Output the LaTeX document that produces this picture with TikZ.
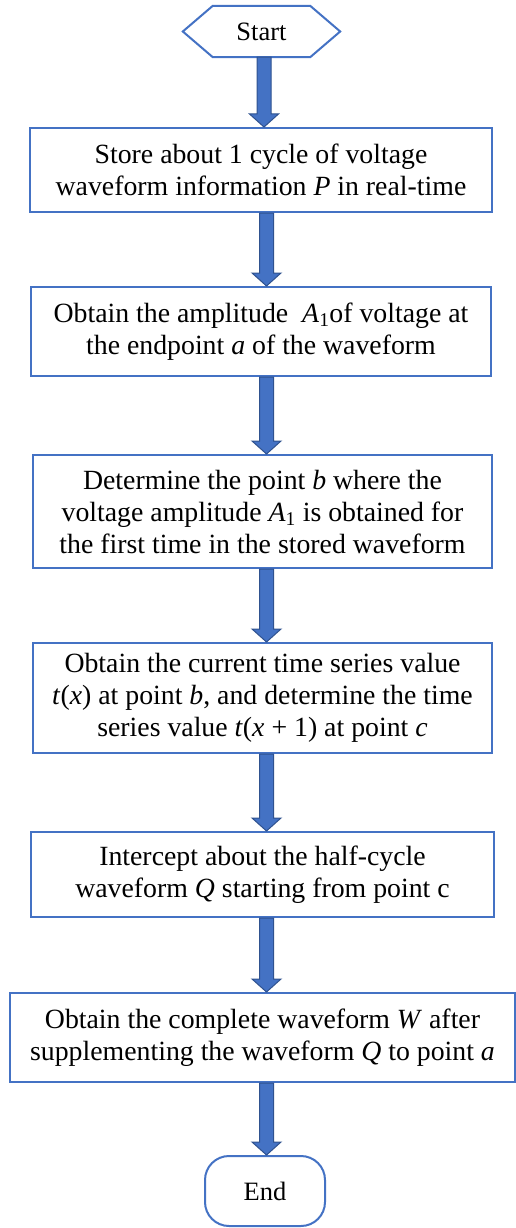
\documentclass[tikz,border=0pt]{standalone}
\usepackage{fontspec}
\setmainfont{Liberation Serif}
\usetikzlibrary{calc}
\definecolor{flowblue}{HTML}{4472C4}
\definecolor{flowedge}{HTML}{2F528F}
\newcommand{\mv}[1]{\textit{#1}}
\begin{document}
\begin{tikzpicture}[x=1pt,y=-1pt,
  stepbox/.style={draw=flowblue, line width=2pt, fill=white, align=center,
    inner sep=0pt, font=\fontsize{27.8}{32}\selectfont},
  termtext/.style={inner sep=0pt, font=\fontsize{26.5}{30}\selectfont},
  flowarrow/.style={draw=flowedge, fill=flowblue, line width=1pt,
    to path={let \p1=(\tikztostart), \p2=(\tikztotarget) in
      (\x1-7pt,\y1) -- (\x1+7pt,\y1) -- (\x1+7pt,\y2+13pt) -- (\x1+14.5pt,\y2+13pt)
      -- (\x1,\y2) -- (\x1-14.5pt,\y2+13pt) -- (\x1-7pt,\y2+13pt) -- cycle}}]
\useasboundingbox (0,0) rectangle (516,1228);

% vertical lines the block arrows run along
\coordinate (axisA) at (264,0);
\coordinate (axisB) at (266.5,0);

% start terminal (hexagon)
\node[termtext, minimum width=157pt, minimum height=51pt] (start) at (261.5,31.5) {Start};
\draw[flowblue, line width=2pt, line join=miter]
  (start.west) -- ([xshift=30pt]start.north west) -- ([xshift=-30pt]start.north east)
  -- (start.east) -- ([xshift=-30pt]start.south east) -- ([xshift=30pt]start.south west) -- cycle;

% process steps
\node[stepbox, minimum width=462pt, minimum height=84pt] (s1) at (261,170)
  {Store about 1 cycle of voltage\\waveform information \mv{P} in real-time};
\node[stepbox, minimum width=460pt, minimum height=89pt] (s2) at (261,331.5)
  {Obtain the amplitude \ \mv{A}\textsubscript{1}of voltage at\\the endpoint \mv{a} of the waveform};
\node[stepbox, minimum width=459pt, minimum height=113pt] (s3) at (262.5,511.5)
  {Determine the point \mv{b} where the\\voltage amplitude \mv{A}\textsubscript{1} is obtained for\\the first time in the stored waveform};
\node[stepbox, minimum width=459pt, minimum height=110pt] (s4) at (262.5,698)
  {Obtain the current time series value\\\mv{t}(\mv{x}) at point \mv{b}, and determine the time\\series value \mv{t}(\mv{x} + 1) at point \mv{c}};
\node[stepbox, minimum width=463pt, minimum height=85pt] (s5) at (262.5,874.5)
  {Intercept about the half-cycle\\waveform \mv{Q} starting from point c};
\node[stepbox, minimum width=505pt, minimum height=89pt] (s6) at (262.5,1037.5)
  {Obtain the complete waveform \mv{W} after\\supplementing the waveform \mv{Q} to point \mv{a}};

% end terminal
\node[stepbox, rounded corners=24pt, minimum width=120pt, minimum height=70pt,
  font=\fontsize{26.5}{30}\selectfont] (finish) at (265,1191) {End};

% block arrows
\path[flowarrow] (start.south -| axisA) to (s1.north -| axisA);
\path[flowarrow] (s1.south -| axisB) to (s2.north -| axisB);
\path[flowarrow] (s2.south -| axisB) to (s3.north -| axisB);
\path[flowarrow] (s3.south -| axisB) to (s4.north -| axisB);
\path[flowarrow] (s4.south -| axisB) to (s5.north -| axisB);
\path[flowarrow] (s5.south -| axisB) to (s6.north -| axisB);
\path[flowarrow] (s6.south -| axisB) to (finish.north -| axisB);
\end{tikzpicture}
\end{document}
